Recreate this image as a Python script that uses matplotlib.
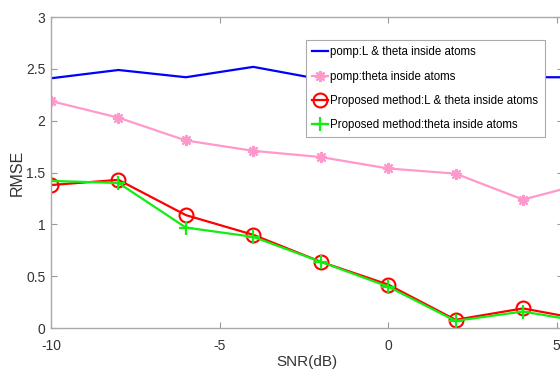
import matplotlib
matplotlib.use("Agg")
import matplotlib.pyplot as plt  # noqa: E402

# SNR sweep; the last point sits outside the visible x range (cropped figure)
snr = [-10, -8, -6, -4, -2, 0, 2, 4, 6]

pomp_l_theta = [2.41, 2.49, 2.42, 2.52, 2.40, 2.45, 2.43, 2.42, 2.42]
pomp_theta = [2.19, 2.03, 1.81, 1.71, 1.65, 1.54, 1.49, 1.24, 1.41]
prop_l_theta = [1.38, 1.43, 1.09, 0.90, 0.64, 0.42, 0.08, 0.19, 0.07]
prop_theta = [1.42, 1.40, 0.97, 0.88, 0.64, 0.40, 0.07, 0.16, 0.05]

labels = [
    "pomp:L & theta inside atoms",
    "pomp:theta inside atoms",
    "Proposed method:L & theta inside atoms",
    "Proposed method:theta inside atoms",
]
x_ticks = [-10, -5, 0, 5]
y_ticks = [0, 0.5, 1, 1.5, 2, 2.5, 3]

plt.rcParams["font.family"] = ["Liberation Sans", "DejaVu Sans"]
plt.rcParams["axes.unicode_minus"] = False

fig = plt.figure(figsize=(5.6, 3.72), dpi=100)
ax = fig.add_axes([0.0911, 0.118, 0.915, 0.836])

ax.plot(snr, pomp_l_theta, color="#0000ff", linewidth=1.6, label=labels[0])
ax.plot(snr, pomp_theta, color="#ff99cc", linewidth=1.6,
        marker=(8, 2, 0), markersize=8, markeredgewidth=1.6, label=labels[1])
ax.plot(snr, prop_l_theta, color="#ff0000", linewidth=1.6, marker="o",
        markersize=10, markerfacecolor="none", markeredgewidth=1.5,
        label=labels[2])
ax.plot(snr, prop_theta, color="#11ee11", linewidth=1.6, marker="+",
        markersize=10, markeredgewidth=1.6, label=labels[3])

ax.set_xlim(-10, 5.2)
ax.set_ylim(0, 3)
ax.set_xticks(x_ticks)
ax.set_yticks(y_ticks)
ax.set_yticklabels(["0", "0.5", "1", "1.5", "2", "2.5", "3"])

ax.tick_params(direction="in", top=True, right=True, length=4, width=0.8,
               color="#999999", labelsize=10, labelcolor="#333333")
ax.tick_params(axis="x", pad=8)
ax.tick_params(axis="y", pad=4)
for s in ax.spines.values():
    s.set_color("#aaaaaa")
    s.set_linewidth(1.0)

ax.set_xlabel("SNR(dB)", fontsize=11, color="#333333", labelpad=1)
ax.set_ylabel("RMSE", fontsize=11.5, color="#333333", labelpad=1)

leg = ax.legend(loc="upper left", bbox_to_anchor=(0.4976, 0.926),
                borderaxespad=0, fontsize=8.3, handlelength=1.4,
                handletextpad=0.15, labelspacing=1.05, borderpad=0.55,
                fancybox=False, framealpha=1, edgecolor="#aaaaaa")
leg.get_frame().set_linewidth(0.8)

fig.savefig("out.png", dpi=100)
plt.close(fig)
